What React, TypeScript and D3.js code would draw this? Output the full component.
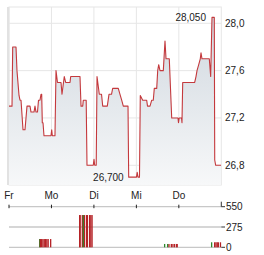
import React from "react";
import * as d3 from "d3";

// Price series: time in trading days from Friday open, price in EUR
const priceT = [0, 0.071, 0.087, 0.165, 0.188, 0.236, 0.259, 0.283, 0.33, 0.377, 0.424, 0.495, 0.518, 0.589, 0.612, 0.636, 0.671, 0.695, 0.73, 0.754, 0.77, 0.784, 0.801, 0.824, 0.989, 1.006, 1.02, 1.083, 1.107, 1.142, 1.225, 1.248, 1.302, 1.335, 1.437, 1.453, 1.672, 1.696, 1.736, 1.75, 1.818, 1.837, 1.985, 2.002, 2.018, 2.054, 2.073, 2.127, 2.179, 2.207, 2.315, 2.355, 2.414, 2.442, 2.574, 2.614, 2.654, 2.692, 2.803, 2.819, 3.003, 3.019, 3.038, 3.073, 3.092, 3.149, 3.243, 3.262, 3.321, 3.361, 3.398, 3.422, 3.479, 3.502, 3.526, 3.556, 3.634, 3.674, 3.698, 3.775, 3.832, 3.98, 3.992, 4.008, 4.063, 4.074, 4.091, 4.373, 4.404, 4.428, 4.468, 4.505, 4.522, 4.545, 4.717, 4.75, 4.781, 4.835, 4.845, 4.868, 4.993];
const priceV = [27.3, 27.3, 27.8, 27.8, 27.6, 27.39, 27.35, 27.35, 27.1, 27.1, 27.3, 27.3, 27.25, 27.25, 27.3, 27.25, 27.25, 27.35, 27.35, 27.4, 27.4, 27.16, 27.16, 27.05, 27.05, 27.1, 27.05, 27.05, 27.6, 27.5, 27.5, 27.4, 27.55, 27.5, 27.5, 27.55, 27.55, 27.3, 27.3, 27.35, 27.35, 26.8, 26.8, 26.85, 26.8, 26.8, 27.55, 27.4, 27.4, 27.3, 27.3, 27.4, 27.4, 27.45, 27.45, 27.4, 27.35, 27.3, 27.3, 26.7, 26.7, 26.74, 26.7, 26.7, 27.39, 27.35, 27.35, 27.3, 27.3, 27.35, 27.35, 27.45, 27.45, 27.6, 27.65, 27.6, 27.6, 27.85, 27.7, 27.7, 27.2, 27.2, 27.16, 27.2, 27.2, 27.16, 27.5, 27.5, 27.55, 27.6, 27.65, 27.7, 27.75, 27.7, 27.7, 27.55, 28.05, 28.05, 26.845, 26.8, 26.8];

// Volume series
const volT = [0.707, 0.723, 0.754, 0.784, 0.815, 0.846, 0.876, 0.907, 0.966, 1.649, 1.66, 1.712, 1.736, 1.764, 1.813, 1.832, 1.884, 1.912, 1.941, 3.65, 3.721, 3.752, 3.808, 3.846, 3.886, 3.933, 3.945, 4.757, 4.828, 4.859, 4.889, 4.915, 4.965];
const volV = [112, 112, 112, 112, 112, 112, 112, 112, 112, 437, 437, 437, 437, 437, 437, 437, 437, 437, 437, 45, 45, 45, 45, 45, 45, 45, 45, 68, 68, 68, 68, 68, 68];
const volUp = [true, false, false, false, false, false, false, false, false, false, false, false, true, false, false, false, false, false, false, true, true, false, false, false, false, false, false, true, false, false, false, false, false];

const dayLabels = ["Fr", "Mo", "Di", "Mi", "Do"];
const priceTicks = [26.8, 27.2, 27.6, 28.0];
const volTicks = [0, 275, 550];
const highLabel = "28,050";
const lowLabel = "26,700";

const fmt = (v: number) => v.toFixed(1).replace(".", ",");

export default function App() {
  const W = 264, H = 255;
  const left = 9, right = 221.3;
  const top = 7, bottom = 185;
  const x = d3.scaleLinear().domain([0, 5]).range([left, right]);
  const y = d3.scaleLinear().domain([26.8, 28.0]).range([165.3, 23.3]);
  const yv = d3.scaleLinear().domain([0, 550]).range([247.3, 206.7]);

  const pts = priceT.map((t, i) => [t, priceV[i]] as [number, number]);
  const line = d3.line<[number, number]>().x(d => x(d[0])).y(d => y(d[1]));
  const area = d3.area<[number, number]>().x(d => x(d[0])).y0(bottom).y1(d => y(d[1]));

  const hiIdx = d3.maxIndex(priceV);
  const loIdx = d3.minIndex(priceV);
  const font = "'Liberation Sans', Arial, sans-serif";
  const barW = 1.3;

  return (
    <svg width={W} height={H} style={{ position: "absolute", left: 0, top: 0 }} fontFamily={font}>
      <defs>
        <linearGradient id="ag" x1="0" y1={top} x2="0" y2={bottom} gradientUnits="userSpaceOnUse">
          <stop offset="0" stopColor="#cdd5dd" />
          <stop offset="1" stopColor="#f7f8f9" />
        </linearGradient>
      </defs>
      <rect x={0} y={0} width={W} height={H} fill="#fff" />
      {/* price grid */}
      {priceTicks.map(v => (
        <line key={v} x1={left} x2={right} y1={y(v)} y2={y(v)} stroke="#e6e6e6" strokeWidth={1} />
      ))}
      {dayLabels.map((d, i) => (
        <line key={d} x1={x(i)} x2={x(i)} y1={top} y2={bottom} stroke="#e6e6e6" strokeWidth={1} />
      ))}
      <rect x={left} y={top} width={right - left} height={bottom - top} fill="none" stroke="#e6e6e6" strokeWidth={1} />
      <line x1={left - 1} x2={left - 1} y1={top} y2={bottom} stroke="#e2e2e2" strokeWidth={2} />
      <path d={area(pts) || ""} fill="url(#ag)" />
      <path d={line(pts) || ""} fill="none" stroke="#c4393d" strokeWidth={1.1} strokeLinejoin="round" />
      {priceTicks.map(v => (
        <text key={v} x={225} y={y(v) + 3.5} fontSize={10} fill="#222">{fmt(v)}</text>
      ))}
      <text x={x(priceT[hiIdx]) - 6} y={y(priceV[hiIdx]) + 3.5} fontSize={10} fill="#222" textAnchor="end">{highLabel}</text>
      <text x={x(priceT[loIdx]) - 5} y={y(priceV[loIdx]) + 3.5} fontSize={10} fill="#222" textAnchor="end">{lowLabel}</text>
      {/* day labels */}
      {dayLabels.map((d, i) => (
        <text key={d} x={x(i)} y={198.5} fontSize={10} fill="#222" textAnchor="middle">{d}</text>
      ))}
      {/* volume grid */}
      {volTicks.map(v => (
        <g key={v}>
          <line x1={left} x2={right} y1={yv(v)} y2={yv(v)} stroke="#c8c8c8" strokeWidth={1.3} />
          <line x1={right} x2={225} y1={yv(v)} y2={yv(v)} stroke="#333" strokeWidth={1} />
          <text x={226} y={yv(v) + 3.5} fontSize={10} fill="#222">{v}</text>
        </g>
      ))}
      <line x1={right} x2={right} y1={yv(550) - 5} y2={yv(550)} stroke="#333" strokeWidth={1} />
      {dayLabels.map((d, i) => (
        <line key={d} x1={x(i)} x2={x(i)} y1={yv(550) - 2} y2={yv(550) + 1.5} stroke="#222" strokeWidth={1} />
      ))}
      {volT.map((t, i) => (
        <rect key={i} x={x(t)} y={yv(volV[i])} width={barW} height={yv(0) - yv(volV[i])} fill={volUp[i] ? "#2d8a2d" : "#b52226"} />
      ))}
    </svg>
  );
}
